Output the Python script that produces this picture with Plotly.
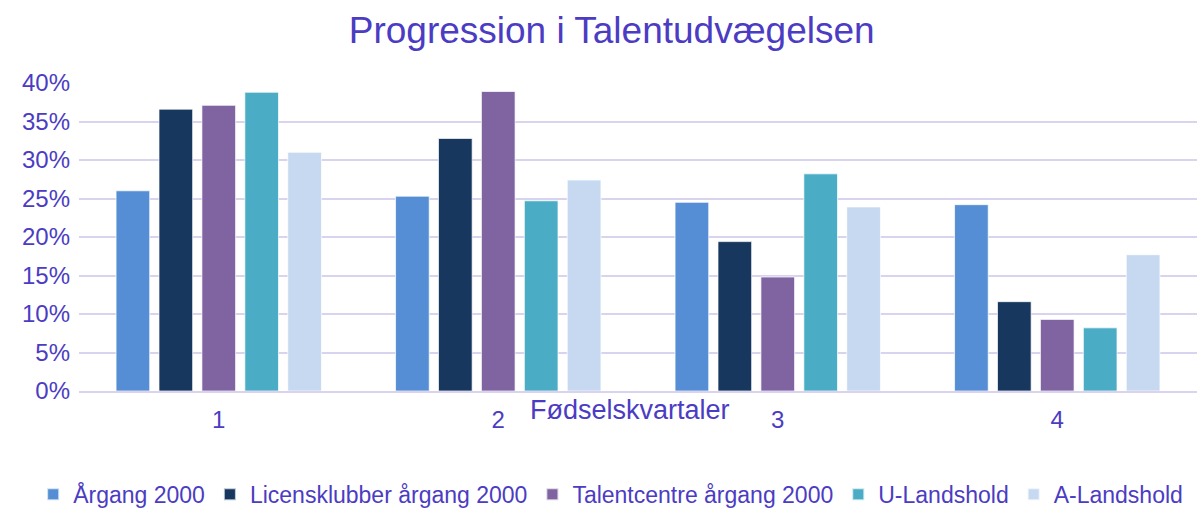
import plotly.graph_objects as go

categories = ["1", "2", "3", "4"]
series_names = ["Årgang 2000", "Licensklubber årgang 2000", "Talentcentre årgang 2000", "U-Landshold", "A-Landshold"]
aargang = [0.260, 0.253, 0.245, 0.242]
licens = [0.366, 0.328, 0.194, 0.116]
talent = [0.371, 0.389, 0.148, 0.093]
u_lands = [0.388, 0.247, 0.282, 0.082]
a_lands = [0.310, 0.274, 0.239, 0.177]
colors = ["#558ED5", "#17375E", "#8064A2", "#4BACC6", "#C6D9F1"]
yticks = [0, 0.05, 0.10, 0.15, 0.20, 0.25, 0.30, 0.35, 0.40]
ytick_text = ["0%", "5%", "10%", "15%", "20%", "25%", "30%", "35%", "40%"]

TXT = "#4B3CC3"
FONT = "Liberation Sans, Arial, sans-serif"

fig = go.Figure()
for name, vals, col in zip(series_names, [aargang, licens, talent, u_lands, a_lands], colors):
    fig.add_trace(go.Bar(
        x=categories, y=vals, name=name,
        marker=dict(color=col, line=dict(color="rgba(255,255,255,0.7)", width=1)),
    ))

fig.update_layout(
    width=1197, height=509,
    paper_bgcolor="white", plot_bgcolor="white",
    margin=dict(l=79, r=0, t=83, b=118, autoexpand=False),
    barmode="group", bargap=0.232, bargroupgap=0.216,
    font=dict(family=FONT, color=TXT, size=24),
    title=dict(text="Progression i Talentudvægelsen", x=0.511, xanchor="center",
               y=0.941, yanchor="middle", font=dict(size=37, color=TXT, family=FONT)),
    showlegend=True,
    legend=dict(orientation="h", x=-0.041, xanchor="left", y=-0.335, yanchor="middle",
                font=dict(size=23, color=TXT), itemwidth=30, tracegroupgap=0,
                itemsizing="constant"),
    yaxis=dict(range=[0, 0.40], tickvals=yticks, ticktext=ytick_text,
               showgrid=True, gridcolor="#D9D3F0", gridwidth=2, zeroline=False,
               showline=False, ticks="", ticklabelstandoff=8, automargin=False,
               tickfont=dict(size=24, color=TXT)),
    xaxis=dict(showline=True, linecolor="#D9D3F0", linewidth=2, ticks="",
               automargin=False,
               tickfont=dict(size=24, color=TXT), ticklabelstandoff=6),
)
fig.add_annotation(text="Fødselskvartaler", xref="paper", yref="paper",
                   x=0.493, y=-0.063, xanchor="center", yanchor="middle",
                   showarrow=False, font=dict(size=27, color=TXT, family=FONT))

fig.write_html("out.html", config={"displayModeBar": False},
               post_script="document.body.style.margin='0';")
